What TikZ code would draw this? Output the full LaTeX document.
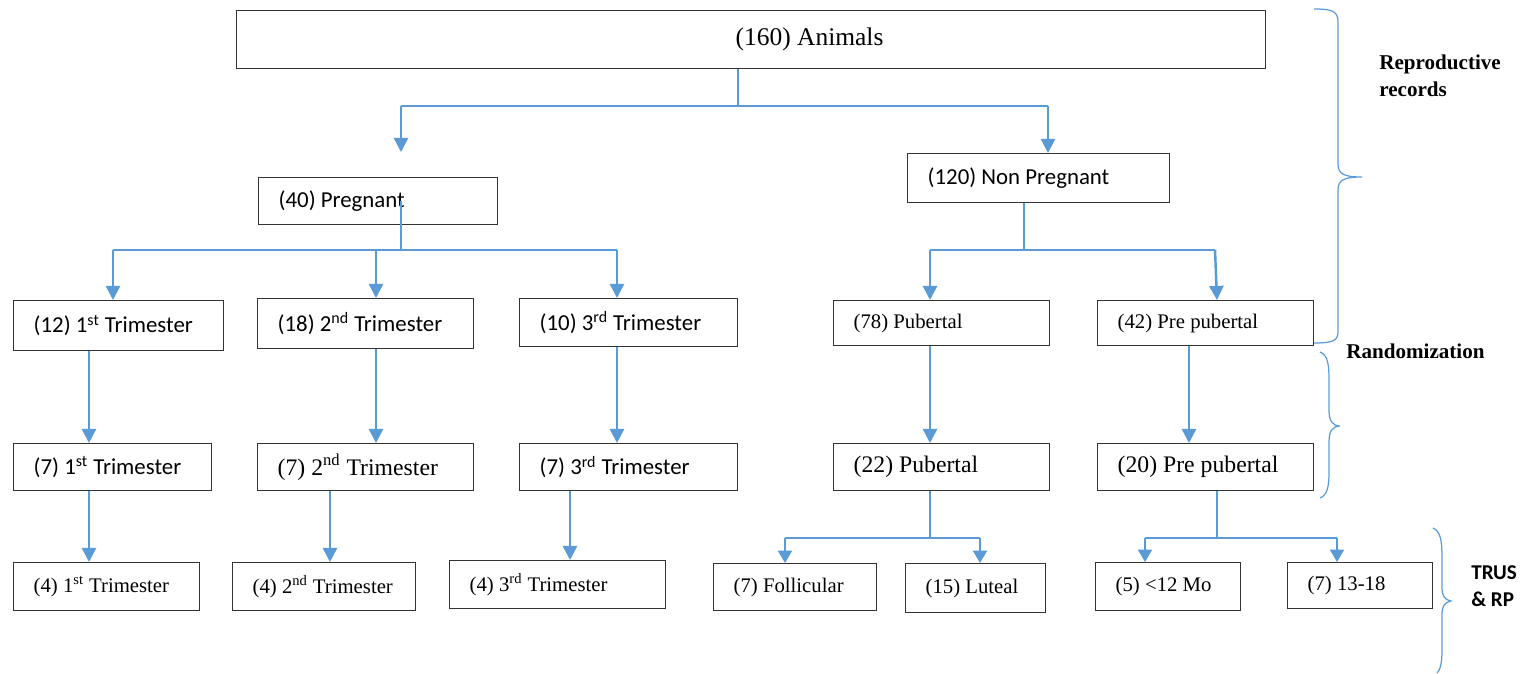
\documentclass[tikz,border=0pt]{standalone}
\usepackage{fontspec}
\setmainfont{Liberation Serif}
\newfontfamily\calib{Carlito}
\usetikzlibrary{arrows.meta}
\definecolor{flowblue}{RGB}{91,155,213}
\tikzset{
  box/.style={draw=black!80, line width=0.8pt, anchor=north west, align=flush left, inner xsep=0.4cm, inner ysep=0pt},
  link/.style={draw=flowblue, line width=0.7pt},
  arr/.style={draw=flowblue, line width=1.4pt, -{Triangle[width=8pt,length=8pt]}},
  sarr/.style={draw=flowblue, line width=0.9pt, -{Triangle[width=8pt,length=7pt]}},
  brace/.style={draw=flowblue, line width=0.7pt},
  note/.style={anchor=west, align=left, inner sep=0pt, font=\bfseries\fontsize{12}{15.3}\selectfont},
  cal/.style={font=\calib\fontsize{13}{16}\selectfont},
  tms/.style={font=\fontsize{13.5}{16}\selectfont},
  sml/.style={font=\fontsize{11.8}{14}\selectfont}
}
\begin{document}
\begin{tikzpicture}[x=0.02cm, y=-0.02cm]
\useasboundingbox (0,0) rectangle (1532,673);

% boxes
\node[box, text width=19.78cm, minimum height=1.16cm, font=\fontsize{14.5}{17}\selectfont] (animals) at (236,10) {\hspace*{9.58cm}(160) Animals};
\node[box, cal, text width=3.98cm, minimum height=0.94cm] (preg) at (258,177) {(40) Pregnant};
\node[box, cal, text width=4.44cm, minimum height=0.98cm] (nonpreg) at (907,153) {(120) Non Pregnant};

\node[box, cal, text width=3.40cm, minimum height=1.0cm] (tri1a) at (13,300) {(12) 1\textsuperscript{st} Trimester};
\node[box, cal, text width=3.52cm, minimum height=1.0cm] (tri2a) at (257,298) {(18) 2\textsuperscript{nd} Trimester};
\node[box, cal, text width=3.56cm, minimum height=0.96cm] (tri3a) at (519,298) {(10) 3\textsuperscript{rd} Trimester};
\node[box, sml, text width=3.52cm, minimum height=0.9cm] (pubA) at (833,300) {(78) Pubertal};
\node[box, sml, text width=3.52cm, minimum height=0.9cm] (preA) at (1097,300) {(42) Pre pubertal};

\node[box, cal, text width=3.16cm, minimum height=0.94cm] (tri1b) at (13,443) {(7) 1\textsuperscript{st} Trimester};
\node[box, tms, text width=3.52cm, minimum height=0.94cm] (tri2b) at (257,443) {(7) 2\textsuperscript{nd} Trimester};
\node[box, cal, text width=3.56cm, minimum height=0.94cm] (tri3b) at (519,443) {(7) 3\textsuperscript{rd} Trimester};
\node[box, tms, text width=3.52cm, minimum height=0.94cm] (pubB) at (833,443) {(22) Pubertal};
\node[box, tms, text width=3.52cm, minimum height=0.94cm] (preB) at (1097,443) {(20) Pre pubertal};

\node[box, sml, text width=2.92cm, minimum height=0.96cm] (tri1c) at (13,562) {(4) 1\textsuperscript{st} Trimester};
\node[box, sml, text width=2.86cm, minimum height=0.96cm] (tri2c) at (232,562) {(4) 2\textsuperscript{nd} Trimester};
\node[box, sml, text width=3.52cm, minimum height=0.96cm] (tri3c) at (449,560) {(4) 3\textsuperscript{rd} Trimester};
\node[box, sml, text width=2.46cm, minimum height=0.94cm] (foll) at (713,563) {(7) Follicular};
\node[box, sml, text width=2.00cm, minimum height=0.98cm] (lut) at (905,563) {(15) Luteal};
\node[box, sml, text width=2.10cm, minimum height=0.96cm] (mo12) at (1095,562) {(5) <12 Mo};
\node[box, sml, text width=2.10cm, minimum height=0.92cm] (mo18) at (1287,562) {(7) 13-18};

% first split
\coordinate (spA) at (738,106);
\coordinate (endP) at (401,152);
\draw[link] (spA |- animals.south) -- (spA);
\draw[link] (endP |- spA) -- (1048,0 |- spA);
\draw[arr] (endP |- spA) -- (endP);
\draw[arr] (1048,0 |- spA) -- (1048,0 |- nonpreg.north);

% pregnant split
\coordinate (spB) at (401,250);
\draw[link] (spB |- preg.center) -- (spB);
\draw[link] (113,0 |- spB) -- (617,0 |- spB);
\draw[arr] (113,0 |- spB) -- (113,0 |- tri1a.north);
\draw[arr] (376,0 |- spB) -- (376,0 |- tri2a.north);
\draw[arr] (617,0 |- spB) -- (617,0 |- tri3a.north);

% non pregnant split
\coordinate (spC) at (1024,250);
\draw[link] (spC |- nonpreg.south) -- (spC);
\draw[link] (930,0 |- spC) -- (1215,0 |- spC);
\draw[arr] (930,0 |- spC) -- (930,0 |- pubA.north);
\draw[arr] (1215,0 |- spC) -- (1217,0 |- preA.north);

\foreach \a/\b/\x in {tri1a/tri1b/89, tri2a/tri2b/376, tri3a/tri3b/617, pubA/pubB/930, preA/preB/1189}
  \draw[arr] (\x,0 |- \a.south) -- (\x,0 |- \b.north);
\foreach \a/\b/\x in {tri1b/tri1c/89, tri2b/tri2c/330, tri3b/tri3c/570}
  \draw[arr] (\x,0 |- \a.south) -- (\x,0 |- \b.north);

% pubertal split
\coordinate (spD) at (930,538);
\draw[link] (spD |- pubB.south) -- (spD);
\draw[link] (785,0 |- spD) -- (980,0 |- spD);
\draw[sarr] (785,0 |- spD) -- (785,0 |- foll.north);
\draw[sarr] (980,0 |- spD) -- (980,0 |- lut.north);

% pre pubertal split
\coordinate (spE) at (1217,538);
\draw[link] (spE |- preB.south) -- (spE);
\draw[link] (1145,0 |- spE) -- (1337,0 |- spE);
\draw[sarr] (1145,0 |- spE) -- (1145,0 |- mo12.north);
\draw[sarr] (1337,0 |- spE) -- (1337,0 |- mo18.north);

% braces
\draw[brace] (1314,9) .. controls (1332,9) and (1338,11) .. (1338,22) -- (1338,164)
  .. controls (1338,174) and (1344,177) .. (1362,177)
  .. controls (1344,177) and (1338,180) .. (1338,190) -- (1338,332)
  .. controls (1338,341) and (1332,343) .. (1314,343);
\draw[brace] (1320,352) .. controls (1328,355) and (1329,365) .. (1329,380) -- (1329,410)
  .. controls (1329,420) and (1332,426) .. (1340,426)
  .. controls (1332,426) and (1329,432) .. (1329,442) -- (1329,472)
  .. controls (1329,488) and (1327,495) .. (1320,498);
\draw[brace] (1433,528) .. controls (1440,531) and (1442,540) .. (1442,556) -- (1442,588)
  .. controls (1442,596) and (1445,600) .. (1451,601)
  .. controls (1445,602) and (1442,606) .. (1442,614) -- (1442,650)
  .. controls (1442,664) and (1440,670) .. (1437,673);

\node[note] (lblrep) at (1379,76) {Reproductive\\records};
\node[note] (lblrand) at (1346,351) {Randomization};
\node[note, font=\calib\bfseries\fontsize{12}{15.3}\selectfont] (lbltrus) at (1471,586) {TRUS\\\& RP};

\end{tikzpicture}
\end{document}
